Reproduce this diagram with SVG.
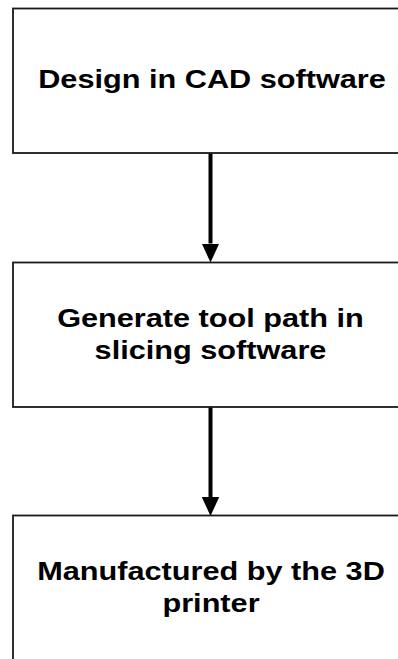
<svg xmlns="http://www.w3.org/2000/svg" width="398" height="659" viewBox="0 0 398 659">
  <style>
    .box { fill: #ffffff; stroke: #1a1a1a; stroke-width: 1.8; }
    .label { font-family: "Liberation Sans", Arial, sans-serif; font-weight: bold; font-size: 26px; fill: #000000; text-anchor: middle; }
    .flow { stroke: #000000; stroke-width: 4; fill: none; marker-end: url(#head); }
  </style>
  <defs>
    <marker id="head" markerUnits="userSpaceOnUse" viewBox="0 -9 19 18" refX="0" refY="0" markerWidth="19" markerHeight="18" orient="auto">
      <path d="M0,-8.7 L19,0 L0,8.7 z" fill="#000000"/>
    </marker>
  </defs>
  <rect width="398" height="659" fill="#ffffff"/>

  <g id="connectors">
    <line class="flow" x1="210.5" y1="153" x2="210.5" y2="243.5"/>
    <line class="flow" x1="210.5" y1="407" x2="210.5" y2="497"/>
  </g>

  <g id="design">
    <rect class="box" x="13" y="8.5" width="400" height="144.5"/>
    <g transform="translate(212 0) scale(1.18 1)">
      <text class="label" x="0" y="88.5">Design in CAD software</text>
    </g>
  </g>

  <g id="slicing">
    <rect class="box" x="13" y="262.5" width="400" height="144.5"/>
    <g transform="translate(210.5 0) scale(1.18 1)">
      <text class="label" x="0" y="327">Generate tool path in</text>
      <text class="label" x="0" y="359">slicing software</text>
    </g>
  </g>

  <g id="printing">
    <rect class="box" x="13" y="515.5" width="400" height="160"/>
    <g transform="translate(211 0) scale(1.18 1)">
      <text class="label" x="0" y="580.5">Manufactured by the 3D</text>
      <text class="label" x="0" y="612">printer</text>
    </g>
  </g>
</svg>
